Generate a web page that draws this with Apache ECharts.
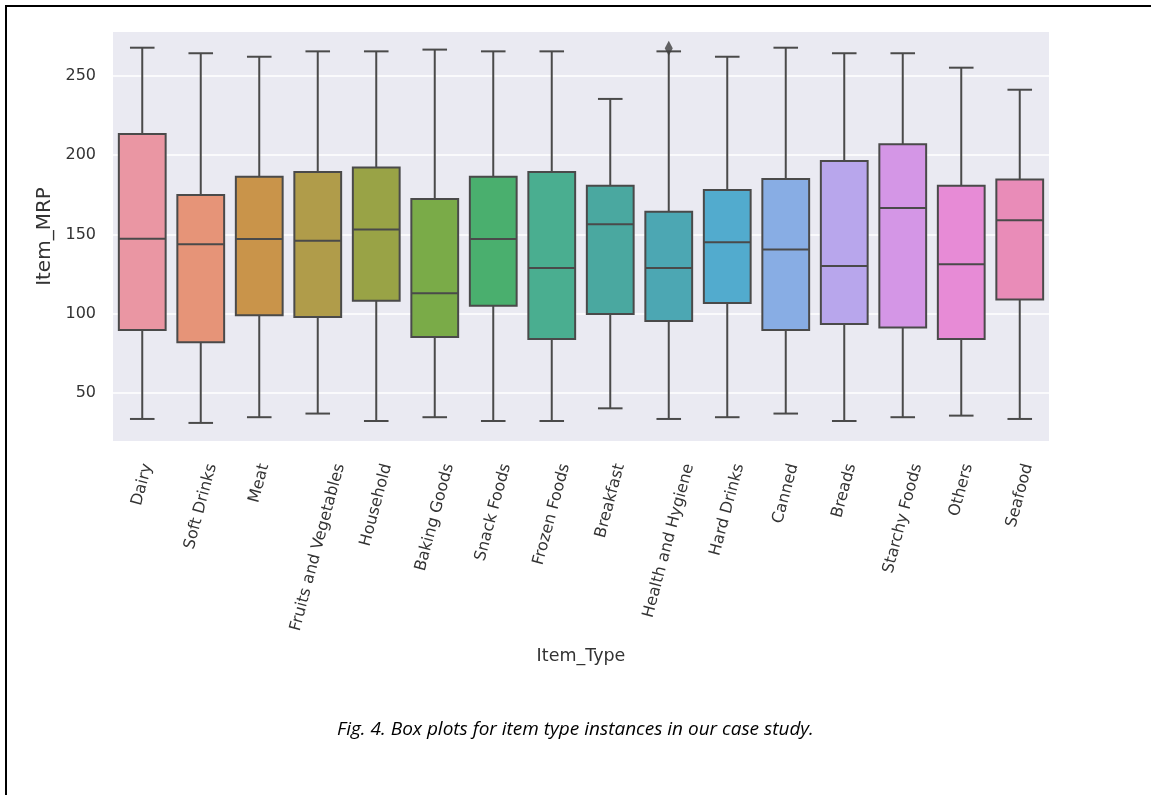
<!DOCTYPE html>
<html>
<head>
<meta charset="utf-8">
<script src="https://cdn.jsdelivr.net/npm/echarts@6/dist/echarts.min.js"></script>
<style>
  html, body { margin: 0; padding: 0; background: #fff; }
  #main { width: 1151px; height: 795px; }
</style>
</head>
<body>
<div id="main"></div>
<script>
  // categories in plotting order
  const itemTypes = ['Dairy', 'Soft Drinks', 'Meat', 'Fruits and Vegetables', 'Household', 'Baking Goods',
    'Snack Foods', 'Frozen Foods', 'Breakfast', 'Health and Hygiene', 'Hard Drinks', 'Canned',
    'Breads', 'Starchy Foods', 'Others', 'Seafood'];
  // five-number summaries
  const whiskerLow = [33.6, 31.1, 34.7, 37.0, 32.3, 34.7, 32.3, 32.3, 40.3, 33.6, 34.7, 37.0, 32.3, 34.7, 35.7, 33.6];
  const q1 = [89.7, 82.0, 99.0, 97.9, 108.2, 85.3, 105.0, 84.0, 99.8, 95.4, 106.7, 89.7, 93.5, 91.2, 84.0, 109.0];
  const median = [147.3, 143.7, 147.1, 146.0, 153.0, 112.8, 147.1, 128.8, 156.3, 128.8, 145.0, 140.4, 130.1, 166.6, 131.1, 158.9];
  const q3 = [213.3, 174.8, 186.4, 189.3, 192.1, 172.3, 186.4, 189.3, 180.7, 164.3, 178.0, 184.9, 196.3, 206.8, 180.7, 184.6];
  const whiskerHigh = [267.7, 264.2, 262.0, 265.4, 265.4, 266.5, 265.4, 265.4, 235.4, 265.4, 262.0, 267.7, 264.2, 264.2, 255.1, 241.2];
  // outliers: [category index, value]
  const outliers = [[9, 267.4]];
  const yTicks = [50, 100, 150, 200, 250];
  const yMin = 19.7;
  const yMax = 277.6;
  const boxColors = ['#ea96a3', '#e69478', '#c9944a', '#b09c4a', '#99a346', '#7aab48', '#4aaf6e', '#4aae90',
    '#4aa8a0', '#4ca7b3', '#52abce', '#88ade4', '#b8a6ec', '#d496e6', '#e78bd6', '#e98cb8'];

  const boxData = itemTypes.map((t, i) => [i, whiskerLow[i], q1[i], median[i], q3[i], whiskerHigh[i]]);
  const edge = '#4a4a4a';

  function renderBox(params, api) {
    const i = api.value(0);
    const band = api.size([1, 0])[0];
    const half = band * 0.4;
    const cap = band * 0.21;
    const pLo = api.coord([i, api.value(1)]);
    const pQ1 = api.coord([i, api.value(2)]);
    const pMed = api.coord([i, api.value(3)]);
    const pQ3 = api.coord([i, api.value(4)]);
    const pHi = api.coord([i, api.value(5)]);
    const x = pMed[0];
    const ls = { stroke: edge, lineWidth: 2 };
    return {
      type: 'group',
      children: [
        { type: 'line', shape: { x1: x, y1: pQ3[1], x2: x, y2: pHi[1] }, style: ls },
        { type: 'line', shape: { x1: x, y1: pQ1[1], x2: x, y2: pLo[1] }, style: ls },
        { type: 'line', shape: { x1: x - cap, y1: pHi[1], x2: x + cap, y2: pHi[1] }, style: ls },
        { type: 'line', shape: { x1: x - cap, y1: pLo[1], x2: x + cap, y2: pLo[1] }, style: ls },
        { type: 'rect', shape: { x: x - half, y: pQ3[1], width: half * 2, height: pQ1[1] - pQ3[1] },
          style: { fill: boxColors[i], stroke: edge, lineWidth: 2 } },
        { type: 'line', shape: { x1: x - half, y1: pMed[1], x2: x + half, y2: pMed[1] }, style: ls }
      ]
    };
  }

  // rotated tick labels, centred under each tick like matplotlib (ha='center', rotation=75)
  const labelFont = 16;
  const labelFamily = 'DejaVu Sans';
  const measureCtx = document.createElement('canvas').getContext('2d');
  measureCtx.font = labelFont + 'px "' + labelFamily + '"';
  const rot = 75 * Math.PI / 180;

  function renderTickLabel(params, api) {
    const i = api.value(0);
    const name = itemTypes[i];
    const p = api.coord([i, yMin]);
    const len = measureCtx.measureText(name).width;
    const h = labelFont;
    const top = p[1] + 21;
    return {
      type: 'text',
      x: p[0] + len * Math.cos(rot) / 2,
      y: top + h / 2 * Math.cos(rot),
      rotation: rot,
      style: {
        text: name,
        fontFamily: labelFamily,
        fontSize: labelFont,
        fill: '#333',
        align: 'right',
        verticalAlign: 'middle'
      }
    };
  }

  const chart = echarts.init(document.getElementById('main'));
  const option = {
    backgroundColor: '#fff',
    animation: false,
    title: {
      text: 'Fig. 4. Box plots for item type instances in our case study.',
      left: 'center',
      top: 715,
      textStyle: { fontFamily: 'Open Sans', fontStyle: 'italic', fontWeight: 'normal', fontSize: 19, color: '#000' }
    },
    graphic: [{
      type: 'rect', shape: { x: 6, y: 6, width: 1150, height: 800 },
      style: { fill: 'none', stroke: '#000', lineWidth: 2 }, silent: true
    }],
    grid: {
      left: 113, top: 32, right: 102, bottom: 354,
      show: true, backgroundColor: '#eaeaf2', borderWidth: 0
    },
    xAxis: {
      type: 'category',
      data: itemTypes,
      boundaryGap: true,
      name: 'Item_Type',
      nameLocation: 'middle',
      nameGap: 206,
      nameTextStyle: { fontFamily: 'DejaVu Sans', fontSize: 17.5, color: '#333' },
      axisLine: { show: false },
      axisTick: { show: false },
      splitLine: { show: false },
      axisLabel: { show: false }
    },
    yAxis: {
      type: 'value',
      min: yMin,
      max: yMax,
      name: 'Item_MRP',
      nameLocation: 'middle',
      nameGap: 42,
      nameTextStyle: { fontFamily: 'DejaVu Sans', fontSize: 20, color: '#333' },
      axisLine: { show: false },
      axisTick: { show: false },
      splitLine: { show: false },
      axisLabel: {
        customValues: yTicks,
        margin: 17,
        fontFamily: 'DejaVu Sans', fontSize: 16, color: '#333'
      }
    },
    series: [
      {
        type: 'line',
        data: [],
        z: 1,
        silent: true,
        markLine: {
          z: 1,
          silent: true,
          symbol: 'none',
          label: { show: false },
          lineStyle: { color: '#ffffff', width: 1.5, type: 'solid' },
          data: yTicks.map(v => ({ yAxis: v }))
        }
      },
      {
        type: 'custom',
        z: 3,
        renderItem: renderBox,
        encode: { x: 0, y: [1, 2, 3, 4, 5] },
        data: boxData
      },
      {
        type: 'scatter',
        z: 4,
        symbol: 'diamond',
        symbolSize: [8, 15],
        itemStyle: { color: '#3f3f3f' },
        data: outliers
      },
      {
        type: 'custom',
        z: 4,
        clip: false,
        silent: true,
        renderItem: renderTickLabel,
        encode: { x: 0 },
        data: itemTypes.map((t, i) => [i])
      }
    ]
  };
  chart.setOption(option);
</script>
</body>
</html>
